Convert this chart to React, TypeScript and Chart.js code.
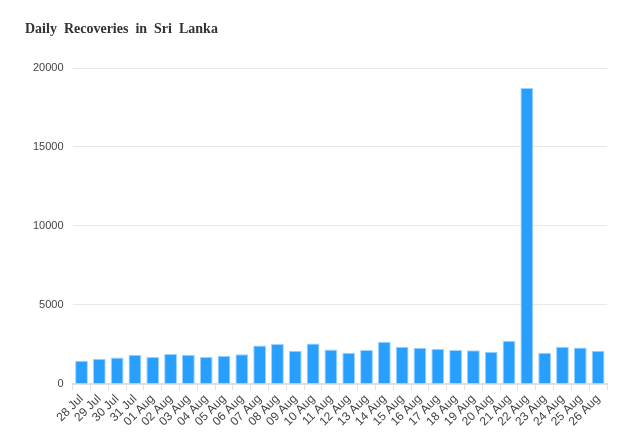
import React, { useEffect, useRef } from "react";
import { Chart, registerables } from "chart.js";

Chart.register(...registerables);

const titleText = "Daily Recoveries in Sri Lanka";
const categories = [
  "28 Jul", "29 Jul", "30 Jul", "31 Jul", "01 Aug", "02 Aug", "03 Aug", "04 Aug", "05 Aug", "06 Aug",
  "07 Aug", "08 Aug", "09 Aug", "10 Aug", "11 Aug", "12 Aug", "13 Aug", "14 Aug", "15 Aug", "16 Aug",
  "17 Aug", "18 Aug", "19 Aug", "20 Aug", "21 Aug", "22 Aug", "23 Aug", "24 Aug", "25 Aug", "26 Aug",
];
const recoveries = [
  1460, 1590, 1670, 1840, 1710, 1900, 1840, 1710, 1780, 1880,
  2430, 2520, 2100, 2560, 2180, 1970, 2140, 2670, 2350, 2290,
  2220, 2150, 2130, 2030, 2730, 18730, 1970, 2350, 2310, 2100,
];
const yMax = 20000;
const yStep = 5000;

export default function App() {
  const ref = useRef<HTMLCanvasElement | null>(null);
  useEffect(() => {
    if (!ref.current) return;
    const chart = new Chart(ref.current, {
      type: "bar",
      data: {
        labels: categories,
        datasets: [
          {
            label: "Recoveries",
            data: recoveries,
            backgroundColor: "#299ffd",
            borderColor: "#9fd3ff",
            borderWidth: 1,
          },
        ],
      },
      options: {
        responsive: false,
        animation: false,
        layout: { padding: { top: 68, left: 24, right: 18, bottom: 16 } },
        plugins: {
          legend: { display: false },
          title: { display: false },
          tooltip: { enabled: false },
        },
        scales: {
          x: {
            grid: { drawOnChartArea: false, drawTicks: true, tickLength: 6, color: "#e0e0e0", offset: true },
            border: { display: true, color: "#e0e0e0", width: 2 },
            ticks: {
              color: "#444",
              font: { family: "Liberation Sans, Arial, sans-serif", size: 12 },
              maxRotation: 45,
              minRotation: 45,
              autoSkip: false,
              padding: 2,
            },
          },
          y: {
            min: 0,
            max: yMax,
            grid: { color: "#e8e8e8", lineWidth: 1, drawTicks: false },
            border: { display: false },
            ticks: {
              stepSize: yStep,
              color: "#444",
              padding: 9,
              font: { family: "Liberation Sans, Arial, sans-serif", size: 11 },
              callback: (v: any) => String(v),
            },
          },
        },
      },
    });
    return () => chart.destroy();
  }, []);
  return (
    <div style={{ position: "fixed", left: 0, top: 0, width: 625, height: 447, background: "#fff" }}>
      <div
        style={{
          position: "absolute",
          left: 25,
          top: 21,
          fontFamily: "'Liberation Serif', 'Times New Roman', serif",
          fontWeight: "bold",
          fontSize: 14,
          wordSpacing: 3.5,
          color: "#333",
        }}
      >
        {titleText}
      </div>
      <canvas ref={ref} width={625} height={447} />
    </div>
  );
}
